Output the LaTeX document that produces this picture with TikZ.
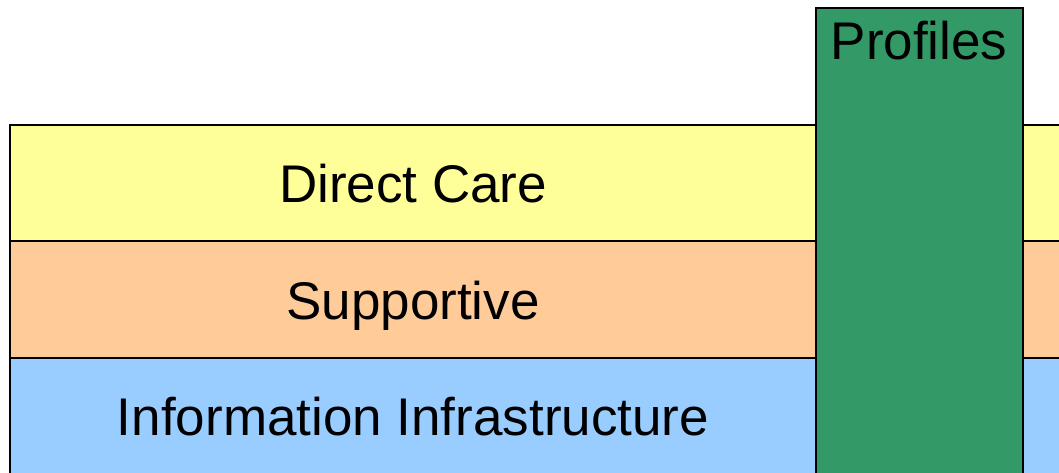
\documentclass[tikz,border=0pt]{standalone}
\usepackage{fontspec}
\setmainfont{Liberation Sans}
\definecolor{careyellow}{HTML}{FFFF99}
\definecolor{supportorange}{HTML}{FFCC99}
\definecolor{infoblue}{HTML}{99CCFF}
\definecolor{profilegreen}{HTML}{339966}
\begin{document}
\begin{tikzpicture}[x=1pt,y=-1pt,
  band/.style={draw=black,line width=2pt},
  lbl/.style={font=\fontsize{53}{60}\selectfont,anchor=base,inner sep=0pt}]
\useasboundingbox (0,0) rectangle (1059,473);
\clip (0,0) rectangle (1059,473);
% functional layers
\path[band,fill=careyellow] (10,125) rectangle (1080,241);
\path[band,fill=supportorange] (10,241) rectangle (1080,358);
\path[band,fill=infoblue] (10,358) rectangle (1080,500);
% profiles column across all layers
\path[band,fill=profilegreen] (816,8) rectangle (1023,500);
\node[lbl] (dc) at (413,202) {Direct Care};
\node[lbl] (sp) at (413,319) {Supportive};
\node[lbl] (ii) at (413,435) {Information Infrastructure};
\node[lbl] (pr) at (919,60) {Profiles};
\end{tikzpicture}
\end{document}
